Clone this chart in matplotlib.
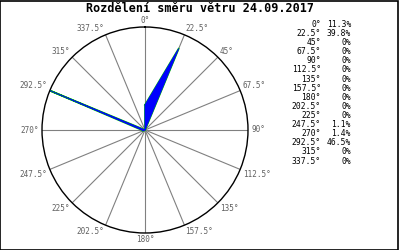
import matplotlib
matplotlib.use("Agg")
import matplotlib.pyplot as plt
from matplotlib.patches import Rectangle
import numpy as np

# ── Data ────────────────────────────────────────────────────────────────────
directions = [0, 22.5, 45, 67.5, 90, 112.5, 135, 157.5,
              180, 202.5, 225, 247.5, 270, 292.5, 315, 337.5]
shares = [11.3, 39.8, 0, 0, 0, 0, 0, 0,
          0, 0, 0, 1.1, 1.4, 46.5, 0, 0]
title = "Rozdělení směru větru 24.09.2017"

C_GRID = "#808080"
C_LABEL = "#606060"
MONO = "DejaVu Sans Mono"

fig = plt.figure(figsize=(4, 2.5), dpi=100)
fig.patch.set_facecolor("white")

# circle centre ~ (145,130) px, radius ~103 px
ax = fig.add_axes([42 / 400, 17 / 250, 206 / 400, 206 / 250], projection="polar")
ax.set_theta_zero_location("N")
ax.set_theta_direction(-1)
rmax = max(shares)
ax.set_ylim(0, rmax)
ax.grid(False)
ax.set_xticks([])
ax.set_yticks([])
ax.spines["polar"].set_color("black")
ax.spines["polar"].set_linewidth(1.0)

theta = np.deg2rad(directions)

# spokes
for t in theta:
    ax.plot([t, t], [0, rmax], color=C_GRID, lw=0.8, zorder=1)

# filled rose
tt = np.append(theta, theta[0])
rr = np.append(shares, shares[0])
ax.plot(tt, rr, color="#00c000", lw=1.3, zorder=2)
ax.fill(tt, rr, facecolor="#0000ff", edgecolor="#0000ff", lw=0.6, zorder=3)

# direction labels, anchored just outside the circle
for d, t in zip(directions, theta):
    s, c = np.sin(t), np.cos(t)
    ha = "center" if abs(s) < 0.1 else ("left" if s > 0 else "right")
    va = "center" if abs(c) < 0.1 else ("bottom" if c > 0 else "top")
    ax.annotate(f"{d:g}°", xy=(t, rmax), xytext=(2.2 * s, 1.5 * c),
                textcoords="offset points", ha=ha, va=va, fontsize=5.5,
                color=C_LABEL, family=MONO, zorder=4)

# title
fig.text(0.5, 1 - 9 / 250, title, ha="center", va="center", fontsize=8.5,
         fontweight="bold", family=MONO)

# side table
for i, (d, s) in enumerate(zip(directions, shares)):
    y = 1 - (24.5 + i * 9.1) / 250
    fig.text(321 / 400, y, f"{d:g}°", ha="right", va="center", fontsize=5.8,
             family=MONO, color="black")
    fig.text(351 / 400, y, f"{s:g}%", ha="right", va="center", fontsize=5.8,
             family=MONO, color="black")

# frame
fig.patches.append(Rectangle((0.001, 0.002), 0.995, 0.996, transform=fig.transFigure,
                             fill=False, edgecolor="black", lw=1.2))

fig.savefig("out.png", dpi=100, facecolor="white")
